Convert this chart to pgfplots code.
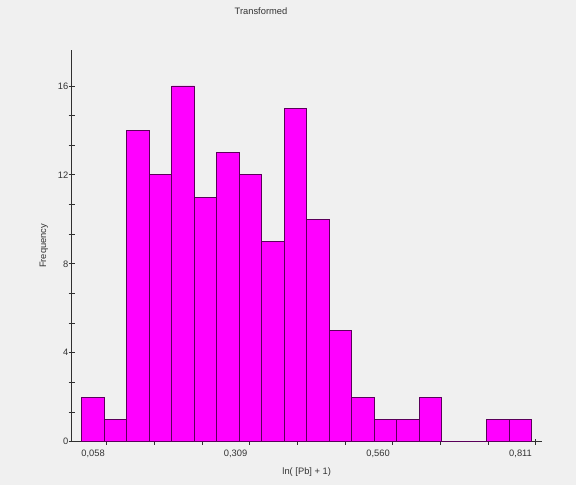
\documentclass[border=0pt]{standalone}
\usepackage{fontspec}
\setmainfont{Liberation Sans}
\usepackage{pgfplots}
\pgfplotsset{compat=1.18}
\definecolor{bgc}{HTML}{F0F0F0}
\definecolor{barfill}{HTML}{FF00FF}
\definecolor{bardraw}{HTML}{5A005A}
\definecolor{axc}{HTML}{303030}
\definecolor{txt}{HTML}{333333}
\begin{document}
\fontsize{7pt}{8.4pt}\selectfont
\begin{tikzpicture}
\fill[bgc] (0,0) rectangle (432pt,363.75pt);
\node[text=txt, font=\fontsize{7pt}{8.4pt}\selectfont] at (195.75pt,355.5pt) {Transformed};
\begin{axis}[
  at={(53.8pt,32.5pt)}, anchor=south west,
  scale only axis, width=352.5pt, height=293.8pt,
  axis lines=left, axis line style={-, draw=axc, line width=0.6pt},
  xmin=0.02048, xmax=0.8483, ymin=0, ymax=17.62,
  /pgf/number format/assume math mode=true,
  xtick={0.058,0.309,0.560,0.811},
  xticklabels={{0,058},{0,309},{0,560},{0,811}},
  major x tick style={draw=none},
  minor xtick={0.0821,0.1661,0.2500,0.3340,0.4180,0.5020,0.5859,0.6699,0.7539,0.8379},
  ytick={0,4,8,12,16},
  minor y tick num=2,
  tick align=center,
  major tick length=4.5pt, minor tick length=4.5pt,
  tick style={draw=axc, line width=0.6pt},
  every tick label/.append style={text=txt, font=\fontsize{7pt}{8.4pt}\selectfont, inner sep=0pt},
  xticklabel style={anchor=north, yshift=-4pt},
  yticklabel style={anchor=east, xshift=-0.2pt},
  xlabel={ln( [Pb] + 1)},
  ylabel={Frequency},
  xlabel style={at={(axis description cs:0.5,-0.0773)}, anchor=center, text=txt, font=\fontsize{7pt}{8.4pt}\selectfont},
  ylabel style={at={(axis description cs:-0.059,0.5)}, anchor=center, rotate=0, text=txt, font=\fontsize{7pt}{8.4pt}\selectfont},
  clip=false,
]
\addplot[ybar interval, fill=barfill, draw=bardraw, line width=0.6pt] coordinates {
(0.03818,2) (0.07782,1) (0.11745,14) (0.15708,12) (0.19671,16)
(0.23634,11) (0.27598,13) (0.31561,12) (0.35524,9) (0.39487,15)
(0.43450,10) (0.47414,5) (0.51377,2) (0.55340,1) (0.59303,1)
(0.63266,2) (0.67230,0) (0.71193,0) (0.75156,1) (0.79119,1)
(0.83082,1)
};
\end{axis}
\end{tikzpicture}
\end{document}
